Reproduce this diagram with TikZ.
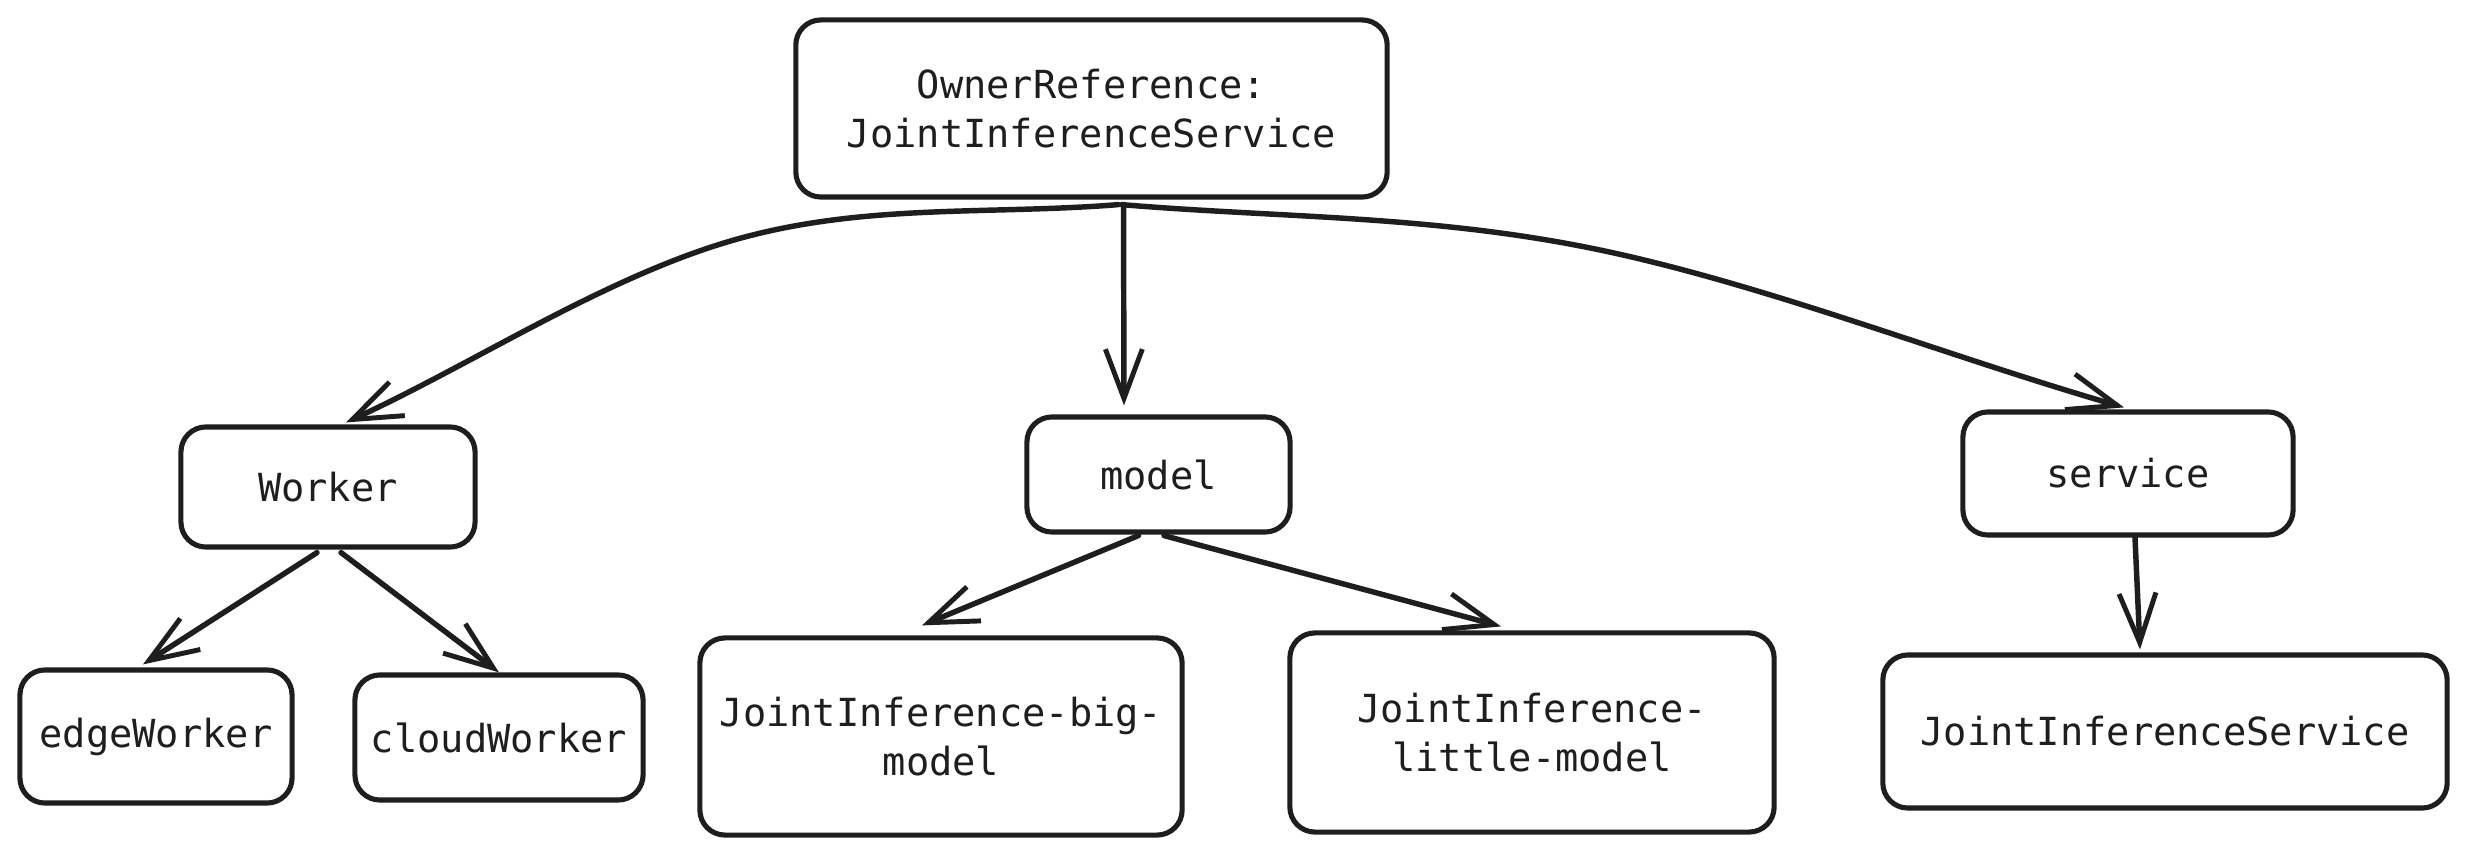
\documentclass[tikz,border=0pt]{standalone}
\usepackage{fontspec}
\setmonofont{DejaVu Sans Mono}
\usetikzlibrary{arrows.meta}
\definecolor{ink}{HTML}{1E1E1E}
\tikzset{
  box/.style={draw=ink, line width=1.45pt, rounded corners=0.25cm, inner sep=0pt,
    align=center, text=ink, font=\ttfamily\fontsize{11pt}{13.7pt}\selectfont},
  conn/.style={draw=ink, line width=1.55pt, line cap=round, line join=round,
    -{Straight Barb[length=14pt,width=10.5pt,line width=1.4pt]}}
}
\begin{document}
\begin{tikzpicture}[x=0.01cm,y=-0.01cm]
\fill[white] (0,0) rectangle (2466,852);
\useasboundingbox (0,0) rectangle (2466,852);

\node[box, minimum width=5.91cm, minimum height=1.77cm] (top) at (1091.5,108.5) {OwnerReference:\\JointInferenceService};
\node[box, minimum width=2.94cm, minimum height=1.20cm] (worker) at (328,487) {Worker};
\node[box, minimum width=2.63cm, minimum height=1.15cm] (model) at (1158.5,474.5) {model};
\node[box, minimum width=3.30cm, minimum height=1.23cm] (service) at (2128,473.5) {service};
\node[box, minimum width=2.72cm, minimum height=1.33cm] (edge) at (156,736.5) {edgeWorker};
\node[box, minimum width=2.88cm, minimum height=1.25cm] (cloud) at (499,737.5) {cloudWorker};
\node[box, minimum width=4.82cm, minimum height=1.97cm] (big) at (941,736.5) {JointInference-big-\\model};
\node[box, minimum width=4.84cm, minimum height=1.99cm] (little) at (1532,732.5) {JointInference-\\little-model};
\node[box, minimum width=5.64cm, minimum height=1.53cm] (jis) at (2165,731.5) {JointInferenceService};

\coordinate (bendL) at (734,240);
\coordinate (bendR) at (1600,250);

% top-level connectors
\draw[conn] ([xshift=0.27cm,yshift=-0.05cm]top.south) .. controls (990,215) and (863,203) .. (bendL)
  .. controls (605,277) and (475,363) .. ([xshift=0.18cm,yshift=0.02cm]worker.north);
\draw[conn] ([xshift=0.32cm,yshift=-0.05cm]top.south) -- ([xshift=-0.345cm,yshift=0.09cm]model.north);
\draw[conn] ([xshift=0.30cm,yshift=-0.05cm]top.south) .. controls (1281,218) and (1433,215) .. (bendR)
  .. controls (1767,285) and (1949,357) .. ([xshift=-0.04cm,yshift=0.02cm]service.north);

% second-level connectors
\draw[conn] ([xshift=-0.11cm,yshift=-0.03cm]worker.south) -- ([xshift=-0.13cm,yshift=0.03cm]edge.north);
\draw[conn] ([xshift=0.13cm,yshift=-0.03cm]worker.south) -- ([xshift=0cm,yshift=0.0cm]cloud.north);
\draw[conn] ([xshift=-0.2cm,yshift=-0.01cm]model.south) -- ([xshift=-0.19cm,yshift=0.1cm]big.north);
\draw[conn] ([xshift=0.055cm,yshift=-0.01cm]model.south) -- ([xshift=-0.31cm,yshift=0.04cm]little.north);
\draw[conn] ([xshift=0.07cm]service.south) -- ([xshift=-0.25cm,yshift=0.03cm]jis.north);
\end{tikzpicture}
\end{document}
